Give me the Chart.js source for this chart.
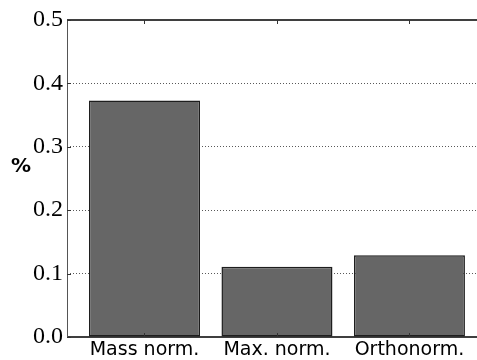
<!DOCTYPE html>
<html lang="en">
<head>
    <meta charset="UTF-8">
    <title>Normalization bar chart</title>
    <script src="https://cdn.jsdelivr.net/npm/chart.js"></script>
    <style>
        body { margin: 0; background: #fff; overflow: hidden; }
        canvas { display: block; }
    </style>
</head>
<body>
    <canvas id="myChart" width="477" height="360"></canvas>

    <script>
        // values
        const categories = ['Mass norm.', 'Max. norm.', 'Orthonorm.'];
        const percentValues = [0.373, 0.111, 0.129];
        const yTicks = [0.0, 0.1, 0.2, 0.3, 0.4, 0.5];

        // spines on top / left / bottom plus small inward ticks, like matplotlib
        const framePlugin = {
            id: 'frame',
            afterDraw(chart) {
                const { ctx, chartArea: a, scales } = chart;
                ctx.save();
                ctx.setLineDash([]);
                ctx.strokeStyle = '#000';
                ctx.lineWidth = 1.5;
                ctx.beginPath();
                ctx.moveTo(a.left, a.top); ctx.lineTo(a.right, a.top);
                ctx.moveTo(a.left, a.bottom); ctx.lineTo(a.right, a.bottom);
                ctx.stroke();
                ctx.strokeStyle = '#555';
                ctx.lineWidth = 1;
                ctx.beginPath();
                ctx.moveTo(a.left + 0.5, a.top); ctx.lineTo(a.left + 0.5, a.bottom);
                ctx.stroke();
                // x ticks at bar centres
                ctx.strokeStyle = '#333';
                categories.forEach((c, i) => {
                    const x = Math.round(scales.x.getPixelForValue(i)) + 0.5;
                    ctx.beginPath();
                    ctx.moveTo(x, a.bottom); ctx.lineTo(x, a.bottom - 4);
                    ctx.moveTo(x, a.top); ctx.lineTo(x, a.top + 4);
                    ctx.stroke();
                });
                // y ticks
                yTicks.forEach(v => {
                    const y = Math.round(scales.y.getPixelForValue(v)) + 0.5;
                    ctx.beginPath();
                    ctx.moveTo(a.left, y); ctx.lineTo(a.left + 4, y);
                    ctx.stroke();
                });
                // y axis title
                ctx.fillStyle = '#000';
                ctx.font = 'bold 20px "DejaVu Sans"';
                ctx.textAlign = 'center';
                ctx.textBaseline = 'middle';
                ctx.fillText('%', 21, 167);
                ctx.restore();
            }
        };

        const ctx = document.getElementById('myChart').getContext('2d');
        new Chart(ctx, {
            type: 'bar',
            data: {
                datasets: [{
                    data: percentValues.map((v, i) => ({ x: i, y: v })),
                    backgroundColor: '#666666',
                    borderColor: '#1e1e1e',
                    borderWidth: 1.5,
                    borderSkipped: false,
                    barPercentage: 0.838,
                    categoryPercentage: 1.0
                }]
            },
            options: {
                responsive: false,
                animation: false,
                layout: { padding: { top: 20, right: 0, left: 0, bottom: 0 } },
                plugins: {
                    legend: { display: false },
                    tooltip: { enabled: false }
                },
                scales: {
                    x: {
                        type: 'linear',
                        offset: false,
                        min: -0.585,
                        max: 2.51,
                        grid: { display: false, drawTicks: false, offset: false },
                        border: { display: false },
                        afterBuildTicks(scale) {
                            scale.ticks = categories.map((c, i) => ({ value: i }));
                        },
                        afterFit(scale) { scale.height = 23; },
                        ticks: {
                            autoSkip: false,
                            maxRotation: 0,
                            padding: 2,
                            color: '#000',
                            font: { family: '"DejaVu Sans"', size: 19 },
                            callback: (v) => categories[v]
                        }
                    },
                    y: {
                        min: 0,
                        max: 0.5,
                        z: 1,
                        afterBuildTicks(scale) {
                            scale.ticks = yTicks.map(v => ({ value: v }));
                        },
                        afterFit(scale) { scale.width = 67; },
                        border: { display: false, dash: [1, 2] },
                        grid: {
                            drawTicks: false,
                            color: (c) => (c.tick.value > 0.001 && c.tick.value < 0.499) ? 'rgba(0,0,0,0.65)' : 'rgba(0,0,0,0)',
                            lineWidth: 1
                        },
                        ticks: {
                            padding: 4,
                            color: '#000',
                            font: { family: '"Liberation Serif"', size: 24 },
                            callback: (v) => v.toFixed(1)
                        }
                    }
                }
            },
            plugins: [framePlugin]
        });
    </script>
</body>
</html>
